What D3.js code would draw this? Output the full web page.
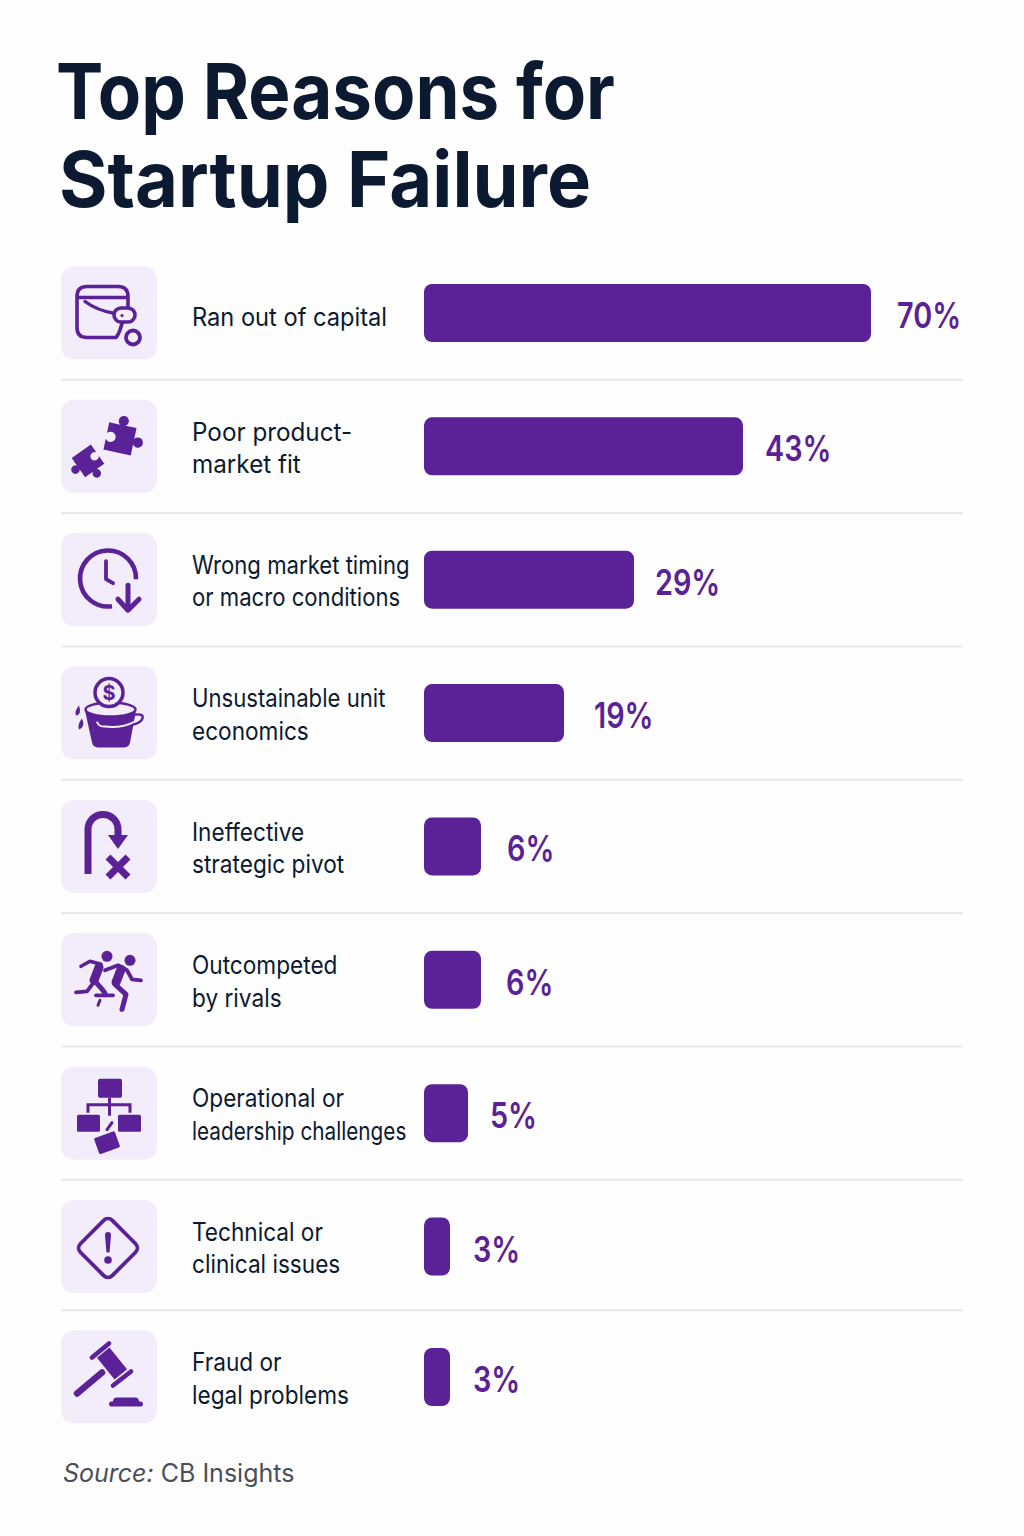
<!DOCTYPE html>
<html>
<head>
<meta charset="utf-8">
<script src="https://cdn.jsdelivr.net/npm/d3@7"></script>
<style>
  html, body { margin: 0; background: #fefefe; }
  text { font-family: Inter, "Noto Sans", sans-serif; }
</style>
</head>
<body>
<div id="chart"></div>
<script>
// data
const titleLines = ["Top Reasons for", "Startup Failure"];
const labelLines = [
    ["Ran out of capital"],
    ["Poor product-", "market fit"],
    ["Wrong market timing", "or macro conditions"],
    ["Unsustainable unit", "economics"],
    ["Ineffective", "strategic pivot"],
    ["Outcompeted", "by rivals"],
    ["Operational or", "leadership challenges"],
    ["Technical or", "clinical issues"],
    ["Fraud or", "legal problems"]
];
const percents = [70, 43, 29, 19, 6, 6, 5, 3, 3];
const iconNames = ["wallet", "puzzle", "clock", "bucket", "pivot", "runners", "org", "warning", "gavel"];

const width = 1024;
const height = 1536;
const purple = "#5a2296";
const tile = "#f3ecfa";
const ink = "#0b1a30";

const svg = d3.select("#chart")
    .append("svg")
    .attr("width", width)
    .attr("height", height)
    .style("display", "block");

// the bars in the reference are not proportional to their labels,
// so the length scale is piecewise and goes through the drawn lengths
const xScale = d3.scaleLinear()
    .domain([0, 3, 5, 6, 19, 29, 43, 70])
    .range([0, 26, 44, 57, 140, 210, 319, 447]);

// rows are evenly spaced apart from the last one, which sits a bit closer
const yScale = d3.scaleLinear()
    .domain([0, 7, 8])
    .range([313, 1246.5, 1377]);

const barLeft = 424;
const barHeight = 58;

// the reference type is narrower than Inter and not evenly so:
// these squeeze a text to the width it has in the picture
const titleSqueeze = [0.92, 0.962];
const labelSqueeze = {
    "Ran out of capital": 0.945,
    "Poor product-": 0.97,
    "market fit": 0.97,
    "Wrong market timing": 0.885,
    "or macro conditions": 0.885,
    "Unsustainable unit": 0.885,
    "leadership challenges": 0.83
};
// the gap between bar and value also varies a little from row to row
const valueNudge = [2, -2, -3, 6, 2, 1, -2, -1, -1];

// title
svg.selectAll(".title")
    .data(titleLines)
    .enter()
    .append("text")
    .attr("class", "title")
    .attr("x", (d, i) => i === 0 ? 56 : 59)
    .attr("y", (d, i) => 119 + i * 88)
    .attr("font-size", 77)
    .attr("font-weight", 700)
    .attr("fill", ink)
    .text(d => d)
    .attr("lengthAdjust", "spacingAndGlyphs")
    .attr("textLength", function(d, i) { return this.getComputedTextLength() * titleSqueeze[i]; });

// separators between the rows
const sepY = d => (yScale(d) + yScale(d + 1)) / 2 - (d === 7 ? 1.5 : 0);
svg.selectAll(".sep")
    .data(d3.range(8))
    .enter()
    .append("line")
    .attr("class", "sep")
    .attr("x1", 61)
    .attr("x2", 963)
    .attr("y1", sepY)
    .attr("y2", sepY)
    .attr("stroke", "#e9e8ee")
    .attr("stroke-width", 2);

const rows = svg.selectAll(".row")
    .data(percents)
    .enter()
    .append("g")
    .attr("class", "row")
    .attr("transform", (d, i) => `translate(0,${yScale(i)})`);

// icon tiles
rows.append("rect")
    .attr("x", 61)
    .attr("y", -46.5)
    .attr("width", 96)
    .attr("height", 93)
    .attr("rx", 13)
    .attr("fill", tile);

// row labels
rows.each(function(d, i) {
    const lines = labelLines[i];
    d3.select(this).selectAll("text.label")
        .data(lines)
        .enter()
        .append("text")
        .attr("class", "label")
        .attr("x", 192)
        .attr("y", (l, j) => (lines.length > 1 ? 10.5 : 13) + (j - (lines.length - 1) / 2) * 32.5)
        .attr("font-size", 25)
        .attr("fill", ink)
        .text(l => l)
        .attr("lengthAdjust", "spacingAndGlyphs")
        .attr("textLength", function(l) {
            return this.getComputedTextLength() * (labelSqueeze[l] || 0.905);
        });
});

// bars
rows.append("rect")
    .attr("x", barLeft)
    .attr("y", -barHeight / 2)
    .attr("width", d => xScale(d))
    .attr("height", barHeight)
    .attr("rx", 8)
    .attr("fill", purple);

// value labels
rows.append("text")
    .attr("x", (d, i) => barLeft + xScale(d) + 24 + valueNudge[i])
    .attr("y", 15)
    .attr("font-size", 36)
    .attr("font-weight", 600)
    .attr("fill", purple)
    .text(d => d + "%")
    .attr("lengthAdjust", "spacingAndGlyphs")
    .attr("textLength", function() { return this.getComputedTextLength() * 0.8; });

function line(g, d, w) {
    return g.append("path")
        .attr("d", d)
        .attr("fill", "none")
        .attr("stroke", purple)
        .attr("stroke-width", w)
        .attr("stroke-linecap", "round")
        .attr("stroke-linejoin", "round");
}

function solid(g, d) {
    return g.append("path").attr("d", d).attr("fill", purple);
}

const puzzlePiece = "M-15 -15 L-3 -15 A5.5 5.5 0 1 1 3 -15 L15 -15 L15 -3 A5.5 5.5 0 1 1 15 3 L15 15 L-15 15 L-15 3 A5.5 5.5 0 1 0 -15 -3 Z";

// icons, drawn in the tile's own coordinates
const icons = {
    wallet(g) {
        line(g, "M67 41 L67 30 Q67 20 57 20 L26 20 Q16 20 16 30 L16 61 Q16 71 26 71 L55 71 Q58 68 61 57", 3.6);
        line(g, "M17 31 L65 31", 3.4);
        line(g, "M24 35 Q36 44 54 47", 3.4);
        g.append("rect").attr("x", 53).attr("y", 41.5).attr("width", 21).attr("height", 14).attr("rx", 7)
            .attr("fill", tile).attr("stroke", purple).attr("stroke-width", 3.6);
        g.append("circle").attr("cx", 61).attr("cy", 49).attr("r", 1.6).attr("fill", purple);
        g.append("circle").attr("cx", 72).attr("cy", 71).attr("r", 7).attr("fill", "none").attr("stroke", purple).attr("stroke-width", 3.8);
    },
    puzzle(g) {
        solid(g, puzzlePiece).attr("transform", "translate(59,39) rotate(12) scale(.93)");
        solid(g, puzzlePiece).attr("transform", "translate(27,61) rotate(145) scale(.78)");
    },
    clock(g) {
        g.append("path").attr("d", "M51 73 A28 28 0 1 1 75 46").attr("fill", "none").attr("stroke", purple).attr("stroke-width", 4.6);
        line(g, "M45 28 L45 46 L52 50", 3.8);
        line(g, "M67 52 L67 76", 5);
        line(g, "M57 66 L67 77 L78 66", 5);
    },
    bucket(g) {
        solid(g, "M24 44 L31 76 Q32 81 38 81 L62 81 Q68 81 69 76 L75 44 Q50 54 24 44 Z");
        g.append("ellipse").attr("cx", 49.5).attr("cy", 43).attr("rx", 25).attr("ry", 7)
            .attr("fill", tile).attr("stroke", purple).attr("stroke-width", 2.5);
        g.append("path").attr("d", "M36 55 Q37 60 44 60 Q60 62 74 55").attr("fill", "none").attr("stroke", tile).attr("stroke-width", 2);
        line(g, "M74 48 Q84 47 81 53 Q78 57 72 58", 2.4);
        g.append("circle").attr("cx", 48).attr("cy", 26).attr("r", 14).attr("fill", tile).attr("stroke", purple).attr("stroke-width", 3.5);
        g.append("text").attr("x", 48).attr("y", 33).attr("text-anchor", "middle").attr("font-size", 20).attr("font-weight", 700).attr("fill", purple).text("$");
        solid(g, "M18 39 Q13 45 15 49 Q21 48 18 39 Z M21 52 Q16 58 18 63 Q25 60 21 52 Z");
    },
    pivot(g) {
        g.append("path").attr("d", "M27 74 L27 29.5 A15 15 0 0 1 57 29.5 L57 37").attr("fill", "none").attr("stroke", purple).attr("stroke-width", 7);
        solid(g, "M47 35 L67 35 L57 49 Z");
        g.append("path").attr("d", "M47 57 L67 77 M67 57 L47 77").attr("stroke", purple).attr("stroke-width", 7);
    },
    runners(g) {
        g.append("circle").attr("cx", 46).attr("cy", 23).attr("r", 5.5).attr("fill", purple);
        g.append("circle").attr("cx", 69).attr("cy", 27).attr("r", 5.5).attr("fill", purple);
        // left runner
        line(g, "M20 33 L29 28 L40 31", 3.6);
        line(g, "M38 34 L33 47", 9);
        line(g, "M32 50 L26 58 L15 59", 3.8);
        line(g, "M35 49 L42 57 L44 60", 5);
        line(g, "M35 62 L52 62", 3.8);
        line(g, "M39 67 L37 72", 3);
        // right runner
        line(g, "M44 37 L57 32 L66 37 L71 46 L80 47", 3.8);
        line(g, "M60 36 L55 49", 9);
        line(g, "M54 51 L65 61 L61 76", 5);
    },
    org(g) {
        g.append("rect").attr("x", 37).attr("y", 12).attr("width", 24).attr("height", 19).attr("rx", 2).attr("fill", purple);
        g.append("rect").attr("x", 16).attr("y", 48).attr("width", 23).attr("height", 17).attr("rx", 1.5).attr("fill", purple);
        g.append("rect").attr("x", 57).attr("y", 48).attr("width", 23).attr("height", 17).attr("rx", 1.5).attr("fill", purple);
        g.append("rect").attr("x", 35).attr("y", 67.5).attr("width", 22).attr("height", 17).attr("rx", 1.5).attr("fill", purple).attr("transform", "rotate(-20 46 76)");
        g.append("path").attr("d", "M48.5 31 L48.5 49 M27 46 L27 38 L69 38 L69 46").attr("fill", "none").attr("stroke", purple).attr("stroke-width", 3);
        line(g, "M46 63 L51 56", 3);
    },
    warning(g) {
        g.append("rect").attr("x", 24.5).attr("y", 25.5).attr("width", 45).attr("height", 45).attr("rx", 6)
            .attr("fill", "none").attr("stroke", purple).attr("stroke-width", 3.8).attr("transform", "rotate(45 47 48)");
        solid(g, "M44 35 Q44 32 47 32 Q50 32 50 35 L48.6 52 Q47 53 45.4 52 Z");
        g.append("circle").attr("cx", 47).attr("cy", 60).attr("r", 3.8).attr("fill", purple);
    },
    gavel(g) {
        g.append("rect").attr("x", 37).attr("y", 25).attr("width", 28).attr("height", 16).attr("fill", purple).attr("transform", "rotate(51 51 33)");
        line(g, "M31 27 L48 13", 4.6);
        line(g, "M52 55 L70 41", 4.6);
        line(g, "M16 63 L41 42", 6.5);
        solid(g, "M52 71 Q52 67 56 67 L74 67 Q78 67 78 71 L80 71 Q82 71 82 73.5 Q82 76 80 76 L50 76 Q48 76 48 73.5 Q48 71 50 71 Z");
    }
};

rows.append("g")
    .attr("transform", "translate(61,-46.5)")
    .each(function(d, i) {
        icons[iconNames[i]](d3.select(this));
    });

// source note
const source = svg.append("text")
    .attr("x", 63)
    .attr("y", 1482)
    .attr("font-size", 25)
    .attr("fill", "#4a4f5a");
source.append("tspan").attr("font-style", "italic").text("Source:");
source.append("tspan").text(" CB Insights");
</script>
</body>
</html>
